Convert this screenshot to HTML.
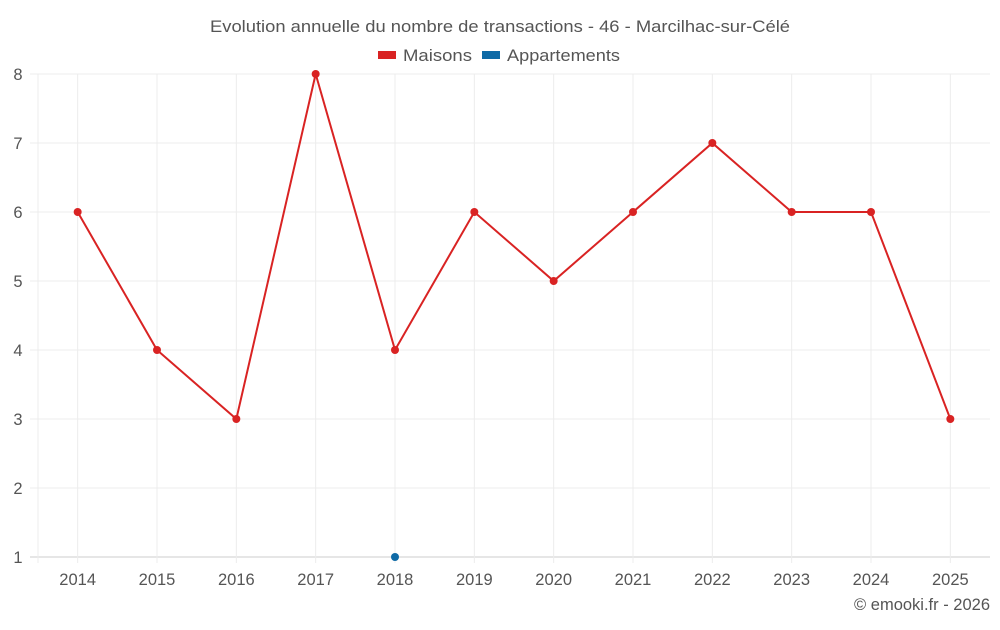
<!DOCTYPE html>
<html><head><meta charset="utf-8"><style>
body{margin:0;background:#fff;font-family:"Liberation Sans",sans-serif}
svg text{font-family:"Liberation Sans",sans-serif}
</style></head><body>
<svg id="c" width="1000" height="625">
<text x="210" y="32" textLength="580" lengthAdjust="spacingAndGlyphs" font-size="16.5" fill="#555">Evolution annuelle du nombre de transactions - 46 - Marcilhac-sur-Célé</text>
<g>
<g><rect x="378" y="51" width="18" height="8" fill="#d92323"/><text x="403" y="61" textLength="69" lengthAdjust="spacingAndGlyphs" font-size="17" fill="#555">Maisons</text></g>
<g><rect x="482" y="51" width="18" height="8" fill="#0e6aa6"/><text x="507" y="61" textLength="113" lengthAdjust="spacingAndGlyphs" font-size="17" fill="#555">Appartements</text></g>
</g>
<g id="grid"></g><g id="axes"></g><g id="marks"></g>
<text x="990" y="610" text-anchor="end" font-size="16.5" fill="#555">© emooki.fr - 2026</text>
</svg>
<script>
const years=["2014","2015","2016","2017","2018","2019","2020","2021","2022","2023","2024","2025"];
const maisons=[6,4,3,8,4,6,5,6,7,6,6,3];
const appartements=[null,null,null,null,1,null,null,null,null,null,null,null];
const yTicks=[1,2,3,4,5,6,7,8];
const L=38,R=990,T=74,B=557,yMin=1,yMax=8;
const bw=(R-L)/years.length;
const x=i=>L+bw*(i+0.5);
const y=v=>B-(v-yMin)/(yMax-yMin)*(B-T);
const ns="http://www.w3.org/2000/svg";
function mk(t,a,p){const e=document.createElementNS(ns,t);for(const k in a)e.setAttribute(k,a[k]);p.appendChild(e);return e;}
const g=document.getElementById('grid'),ax=document.getElementById('axes'),m=document.getElementById('marks');
yTicks.forEach(v=>{
 const l=mk('line',{x1:30,x2:R,y1:y(v),y2:y(v),stroke:v===yMin?'#ccc':'#ececec'},g);
 
 
 const t=mk('text',{x:18,y:y(v)+6,'text-anchor':'middle','font-size':16.5,fill:'#555'},ax);t.textContent=v;
 
 
});
const vl=mk('line',{x1:L,x2:L,y1:T,y2:B+6,stroke:'#ececec'},g);


years.forEach((yr,i)=>{
 const l=mk('line',{x1:x(i),x2:x(i),y1:T,y2:B+6,stroke:'#ececec'},g);
 
 
 const t=mk('text',{x:x(i),y:585,'text-anchor':'middle','font-size':16.5,fill:'#555'},ax);t.textContent=yr;
 
 
});
const pl=mk('polyline',{points:maisons.map((v,i)=>x(i)+','+y(v)).join(' '),fill:'none',stroke:'#d92323','stroke-width':2},m);


maisons.forEach((v,i)=>{const c=mk('circle',{cx:x(i),cy:y(v),r:4,fill:'#d92323'},m);
 
 });
appartements.forEach((v,i)=>{if(v==null)return;const c=mk('circle',{cx:x(i),cy:y(v),r:4,fill:'#0e6aa6'},m);
 
 });
</script>
</body></html>
